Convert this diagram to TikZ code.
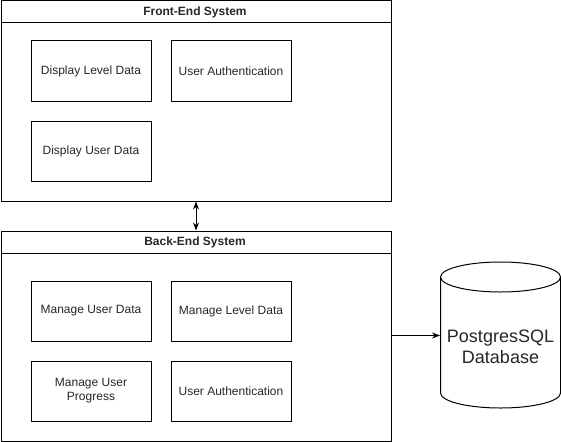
\documentclass[tikz,border=0pt]{standalone}
\usepackage{fontspec}
\setmainfont{Liberation Sans}
\usetikzlibrary{arrows.meta}
\begin{document}
\begin{tikzpicture}[x=1pt,y=-1pt,line width=1pt,
  box/.style={draw,rectangle,minimum width=120pt,minimum height=60pt,anchor=north west,inner sep=0pt,align=center,font=\fontsize{12}{14}\selectfont,text=black!85},
  lane/.style={draw,rectangle,anchor=north west,inner sep=0pt},
  title/.style={font=\bfseries\fontsize{12}{14}\selectfont,text=black!85},
  arr/.style={-{Stealth[length=8pt,width=6pt]}},
  darr/.style={{Stealth[length=8pt,width=6pt]}-{Stealth[length=8pt,width=6pt]}}]
\useasboundingbox (0,0) rectangle (561,441);
% Front-End
\node[lane,minimum width=390pt,minimum height=200pt] (front) at (0.5,0.5) {};
\draw (front.north west) ++(0,22.5) coordinate (fh) -- (fh -| front.east);
\node[title] (ftitle) at (195,12) {Front-End System};
\node[box] (dld) at (30.5,40.5) {Display Level Data};
\node[box] (fua) at (170.5,40.5) {User Authentication};
\node[box] (dud) at (30.5,120.5) {Display User Data};
% Back-End
\node[lane,minimum width=390pt,minimum height=210pt] (back) at (0.5,230.5) {};
\draw (back.north west) ++(0,22.5) coordinate (bh) -- (bh -| back.east);
\node[title] (btitle) at (195,242) {Back-End System};
\node[box] (mud) at (30.5,280.5) {Manage User Data};
\node[box] (mld) at (170.5,280.5) {Manage Level Data};
\node[box] (mup) at (30.5,360.5) {Manage User\\Progress};
\node[box] (bua) at (170.5,360.5) {User Authentication};
% Database cylinder
\draw (440.5,277) -- (440.5,393) arc[start angle=180,end angle=0,x radius=60,y radius=15]
  -- (560.5,277);
\draw (500.5,277) ellipse[x radius=60,y radius=15];
\node[rectangle,minimum width=120pt,minimum height=131pt,inner sep=0pt,align=center,
  font=\fontsize{18}{21}\selectfont,text=black!85] (db) at (500.5,347) {PostgresSQL\\Database};
% Connectors
\draw[darr] (front.south) -- (back.north);
\draw[arr] (back.east |- 0,335.5) coordinate (bo) -- (bo -| db.west);
\end{tikzpicture}
\end{document}
